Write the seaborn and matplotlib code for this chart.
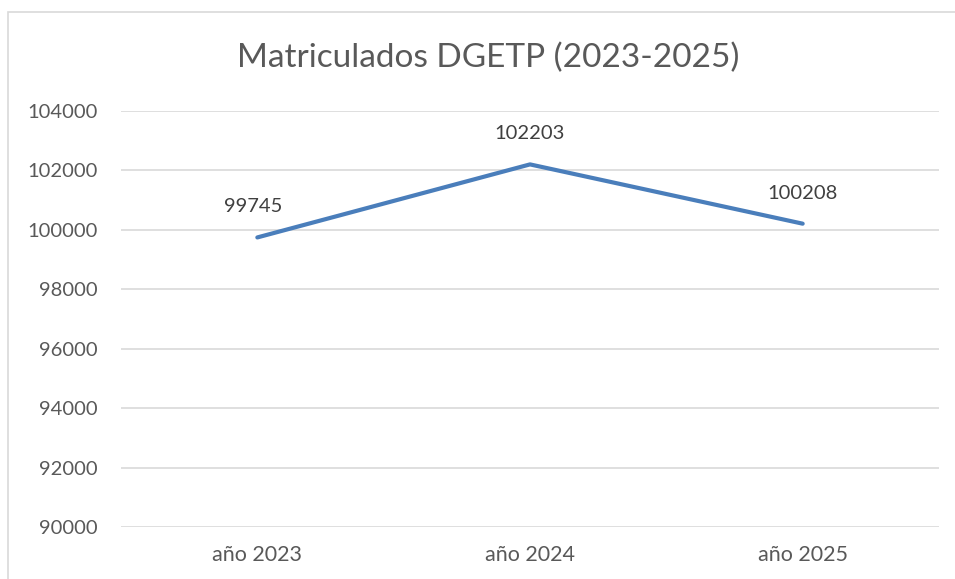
import matplotlib
matplotlib.use("Agg")
import matplotlib.pyplot as plt
import seaborn as sns
import pandas as pd
from matplotlib.patches import Rectangle

## Data
categorias = ["año 2023", "año 2024", "año 2025"]
matriculados = [99745, 102203, 100208]
ticks_y = [90000, 92000, 94000, 96000, 98000, 100000, 102000, 104000]

df = pd.DataFrame({"anio": categorias, "total": matriculados})

sns.set_style("white")
plt.rcParams["font.family"] = ["Lato", "DejaVu Sans"]

gris = "#595959"
azul = "#4A7EBB"

fig = plt.figure(figsize=(9.55, 5.79), dpi=100)
ax = fig.add_axes([121 / 955, 1 - 527 / 579, (939 - 121) / 955, (527 - 111) / 579])

sns.lineplot(data=df, x="anio", y="total", ax=ax, color=azul, linewidth=3,
             sort=False, solid_capstyle="round")

ax.set_xlim(-0.5, 2.5)
ax.set_ylim(90000, 104000)
ax.set_yticks(ticks_y)
ax.set_yticklabels([str(t) for t in ticks_y])
ax.grid(axis="y", color="#D9D9D9", linewidth=1.2)
ax.set_axisbelow(True)
for s in ax.spines.values():
    s.set_visible(False)
ax.tick_params(axis="y", length=0, labelsize=14.5, labelcolor=gris, pad=17)
ax.tick_params(axis="x", length=0, labelsize=15.5, labelcolor=gris, pad=13)
ax.set_xlabel("")
ax.set_ylabel("")

## data labels
for i, v in enumerate(matriculados):
    ax.annotate(str(v), (i, v), xytext=(-3 if i == 0 else 0, 22),
                textcoords="offset points", ha="center", va="center",
                fontsize=14.5, color="#404040")

fig.text(488 / 955, 1 - 58 / 579, "Matriculados DGETP (2023-2025)",
         ha="center", va="center", fontsize=24, color=gris)

## chart frame
fig.patches.append(Rectangle((8 / 955, -0.05), 1.0, 1 - 12 / 579 + 0.05,
                             transform=fig.transFigure, fill=False,
                             edgecolor="#D9D9D9", linewidth=1.2))

plt.savefig("out.png", dpi=100)
